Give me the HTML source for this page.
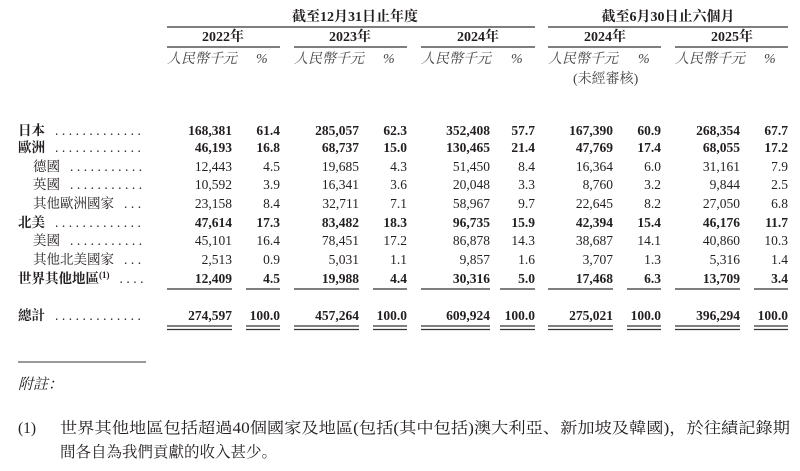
<!DOCTYPE html>
<html><head><meta charset="utf-8"><style>
html,body{margin:0;padding:0;background:#fff;width:800px;height:471px;overflow:hidden}
svg text{font-family:"Liberation Serif","Noto Serif CJK SC","Noto Sans CJK TC",serif;fill:#231f20}
.b{font-weight:bold}
.n{font-size:13.5px;text-anchor:end}
.h{font-size:14px;font-weight:bold;text-anchor:middle}
.s{font-size:14px;font-style:italic;fill:#444}
.l{font-size:13.5px}
.d{font-size:13.5px;letter-spacing:3.5px}
</style></head><body>
<svg width="800" height="471" viewBox="0 0 800 471" xmlns="http://www.w3.org/2000/svg">
<g stroke="#333" stroke-width="1.2">
<line x1="167" y1="27" x2="535" y2="27"/><line x1="548" y1="27" x2="788" y2="27"/>
<line x1="167" y1="47" x2="280" y2="47"/><line x1="294" y1="47" x2="407" y2="47"/><line x1="421" y1="47" x2="535" y2="47"/><line x1="548" y1="47" x2="661" y2="47"/><line x1="675" y1="47" x2="788" y2="47"/>
<line x1="18" y1="362" x2="146" y2="362" stroke-width="1"/>
</g>
<text class="h" x="355" y="21">截至12月31日止年度</text>
<text class="h" x="668" y="21">截至6月30日止六個月</text>
<text class="h" x="223" y="41">2022年</text><text class="h" x="350" y="41">2023年</text><text class="h" x="478" y="41">2024年</text><text class="h" x="605" y="41">2024年</text><text class="h" x="732" y="41">2025年</text>
<g>
<text class="s" x="167" y="63">人民幣千元</text><text class="s" x="256" y="63">%</text>
<text class="s" x="294" y="63">人民幣千元</text><text class="s" x="383" y="63">%</text>
<text class="s" x="421" y="63">人民幣千元</text><text class="s" x="511" y="63">%</text>
<text class="s" x="548" y="63">人民幣千元</text><text class="s" x="638" y="63">%</text>
<text class="s" x="675" y="63">人民幣千元</text><text class="s" x="764" y="63">%</text>
<text class="s" x="573" y="83" style="font-style:normal">(未經審核)</text>
</g>
<g id="rows"></g>
<g stroke="#333" stroke-width="1.2" id="ul"></g>
<text x="18" y="389" style="font-size:15px;font-style:italic">附註：</text>
<text x="18" y="433" style="font-size:15.5px">(1)</text>
<text x="60" y="433" style="font-size:15.5px" textLength="730" lengthAdjust="spacingAndGlyphs">世界其他地區包括超過40個國家及地區(包括(其中包括)澳大利亞、新加坡及韓國)，於往績記錄期</text>
<text x="60" y="457" style="font-size:15.5px">間各自為我們貢獻的收入甚少。</text>
</svg>
<script>
var rows=[["日本",1,0,135,["168,381","61.4","285,057","62.3","352,408","57.7","167,390","60.9","268,354","67.7"]],
["歐洲",1,0,152,["46,193","16.8","68,737","15.0","130,465","21.4","47,769","17.4","68,055","17.2"]],
["德國",0,1,171,["12,443","4.5","19,685","4.3","51,450","8.4","16,364","6.0","31,161","7.9"]],
["英國",0,1,189,["10,592","3.9","16,341","3.6","20,048","3.3","8,760","3.2","9,844","2.5"]],
["其他歐洲國家",0,1,208,["23,158","8.4","32,711","7.1","58,967","9.7","22,645","8.2","27,050","6.8"]],
["北美",1,0,227,["47,614","17.3","83,482","18.3","96,735","15.9","42,394","15.4","46,176","11.7"]],
["美國",0,1,245,["45,101","16.4","78,451","17.2","86,878","14.3","38,687","14.1","40,860","10.3"]],
["其他北美國家",0,1,264,["2,513","0.9","5,031","1.1","9,857","1.6","3,707","1.3","5,316","1.4"]],
["世界其他地區",1,0,283,["12,409","4.5","19,988","4.4","30,316","5.0","17,468","6.3","13,709","3.4"]],
["總計",1,0,320,["274,597","100.0","457,264","100.0","609,924","100.0","275,021","100.0","396,294","100.0"]]];
var xs=[232,280,359,407,490,535,613,661,740,788];
var starts=[167,246,294,373,421,500,548,627,675,754];
var ns="http://www.w3.org/2000/svg",g=document.getElementById("rows"),u=document.getElementById("ul");
function t(x,y,s,c,a){var e=document.createElementNS(ns,"text");e.setAttribute("x",x);e.setAttribute("y",y);e.setAttribute("class",c);if(a)e.setAttribute("style",a);e.textContent=s;g.appendChild(e);return e}
function ln(x1,y,x2){var e=document.createElementNS(ns,"line");e.setAttribute("x1",x1);e.setAttribute("x2",x2);e.setAttribute("y1",y);e.setAttribute("y2",y);u.appendChild(e)}
rows.forEach(function(r){
 var x=r[2]?33:18,cls="l"+(r[1]?" b":"");
 var lab=t(x,r[3],r[0],cls);
 if(r[0]=="世界其他地區"){var ts=document.createElementNS(ns,"tspan");ts.setAttribute("dy","-5");ts.setAttribute("style","font-size:9px");ts.textContent="(1)";lab.appendChild(ts);}
 var w=lab.getComputedTextLength(),dx=x+w+10;
 var dots=t(dx,r[3],"","d");
 var s="";for(var i=0;i<30;i++)s+=".";dots.textContent=s;
 while(dots.getComputedTextLength()+dx>150&&s.length>1){s=s.slice(1);dots.textContent=s;}
 r[4].forEach(function(v,i){t(xs[i],r[3],v,"n"+(r[1]?" b":""))});
});
for(var i=0;i<10;i++){ln(starts[i],289,xs[i]);ln(starts[i],326,xs[i]);ln(starts[i],329.5,xs[i]);}
</script>
</body></html>
